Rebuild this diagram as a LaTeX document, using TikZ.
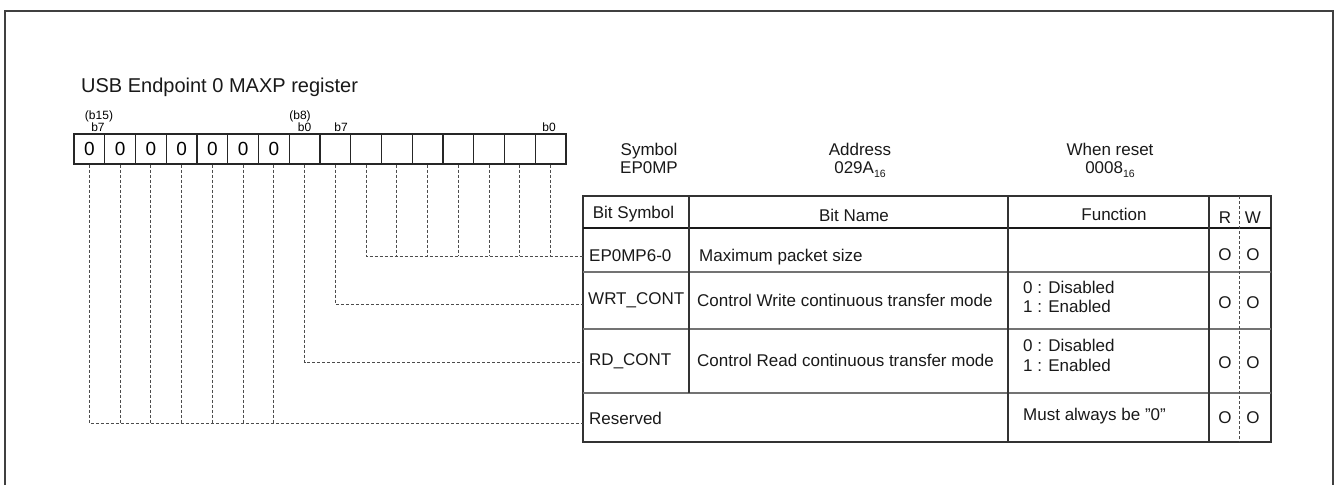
\documentclass[tikz,border=0pt]{standalone}
\usepackage{fontspec}
\setmainfont{Liberation Sans}
\newcommand\fsz[1]{\fontsize{#1}{#1}\selectfont}
\newcommand\hexsub{\raisebox{-4pt}{\fsz{10.5}16}}
\begin{document}
\begin{tikzpicture}[x=1pt,y=-1pt]
\tikzset{
 frameline/.style={draw=black!75, line width=1.5pt},
 cellbox/.style={draw=black!85, line width=1.1pt, minimum width=30.75pt, minimum height=30pt, inner sep=0pt, font=\fsz{19}},
 bitlbl/.style={font=\fsz{12}, inner sep=0pt, anchor=base},
 conn/.style={draw=black!70, line width=0.8pt, dash pattern=on 3pt off 2pt},
 tbl/.style={draw=black!80, line width=1.2pt},
 hdr/.style={draw=black!90, line width=2pt},
 rowline/.style={draw=black!55, line width=1.4pt},
 txt/.style={font=\fsz{17}, inner sep=0pt, text=black!90},
}
\useasboundingbox (0,0) rectangle (1335,485);
% outer frame
\draw[frameline] (5,485) -- (5,11) -- (1333,11) -- (1333,485);
% title
\node[txt, font=\fsz{20}, anchor=base west] (title) at (81,92) {USB Endpoint 0 MAXP register};
% register cells
\foreach \i in {0,...,6}
  \node[cellbox] (c\i) at ({74+30.75*(\i+0.5)},149) {0};
\foreach \i in {7,...,15}
  \node[cellbox] (c\i) at ({74+30.75*(\i+0.5)},149) {};
% bit labels
\node[bitlbl] (l15) at (99,119) {(b15)};
\node[bitlbl] (l15b) at (98,131.5) {b7};
\node[bitlbl] (l8) at (300,119) {(b8)};
\node[bitlbl] (l8b) at (304.5,131.5) {b0};
\node[bitlbl] (l7) at (341,131.5) {b7};
\node[bitlbl] (l0) at (549,131.5) {b0};
% symbol / address / reset
\node[txt, anchor=base] (symh) at (649,155) {Symbol};
\node[txt, anchor=base] (symv) at (649,173.3) {EP0MP};
\node[txt, anchor=base] (addh) at (860,155) {Address};
\node[txt, anchor=base] (addv) at (860,173.3) {029A\hexsub};
\node[txt, anchor=base] (rsth) at (1110,155) {When reset};
\node[txt, anchor=base] (rstv) at (1110,173.3) {0008\hexsub};
% table
\draw[tbl] (583,196) rectangle (1271,442);
\draw[hdr] (583,228) -- (1271,228);
\draw[rowline] (583,272) -- (1271,272);
\draw[rowline] (583,329) -- (1271,329);
\draw[rowline] (583,393) -- (1271,393);
\draw[tbl] (689,196) -- (689,393);
\draw[tbl] (1008,196) -- (1008,442);
\draw[tbl] (1209,196) -- (1209,442);
\draw[conn] (1239,196) -- (1239,442);
% header texts
\node[txt, anchor=base] (hbs) at (633.5,218) {Bit Symbol};
\node[txt, anchor=base] (hbn) at (854,221.5) {Bit Name};
\node[txt, anchor=base] (hfn) at (1114,220) {Function};
\node[txt, anchor=base] (hr) at (1225,223) {R};
\node[txt, anchor=base] (hw) at (1253,223) {W};
% row 1
\node[txt, anchor=base west] (s1) at (589,261.5) {EP0MP6-0};
\node[txt, anchor=base west] (n1) at (699,261.5) {Maximum packet size};
\node[txt, anchor=base] (r1r) at (1225,260.5) {O};
\node[txt, anchor=base] (r1w) at (1253,260.5) {O};
% row 2
\node[txt, anchor=base west] (s2) at (588,304.5) {WRT\_CONT};
\node[txt, anchor=base west] (n2) at (697,306) {Control Write continuous transfer mode};
\node[txt, anchor=base west] (f2a) at (1023,293) {0 : Disabled};
\node[txt, anchor=base west] (f2b) at (1023,312.5) {1 : Enabled};
\node[txt, anchor=base] (r2r) at (1225,308) {O};
\node[txt, anchor=base] (r2w) at (1253,308) {O};
% row 3
\node[txt, anchor=base west] (s3) at (589,365) {RD\_CONT};
\node[txt, anchor=base west] (n3) at (697,366.5) {Control Read continuous transfer mode};
\node[txt, anchor=base west] (f3a) at (1023,351.5) {0 : Disabled};
\node[txt, anchor=base west] (f3b) at (1023,371) {1 : Enabled};
\node[txt, anchor=base] (r3r) at (1225,368) {O};
\node[txt, anchor=base] (r3w) at (1253,368) {O};
% row 4
\node[txt, anchor=base west] (s4) at (589,424.5) {Reserved};
\node[txt, anchor=base west] (f4) at (1023,420) {Must always be \symbol{34}0\symbol{34}};
\node[txt, anchor=base] (r4r) at (1225,423) {O};
\node[txt, anchor=base] (r4w) at (1253,423) {O};
% connector end points at table edge
\coordinate (e1) at (583,256);
\coordinate (e2) at (583,304);
\coordinate (e3) at (583,362);
\coordinate (e4) at (583,423);
% connectors
\draw[conn] (c9.south) |- (e1);
\foreach \i in {10,...,15} \draw[conn] (c\i.south) -- (c\i.south |- e1);
\draw[conn] (c8.south) |- (e2);
\draw[conn] (c7.south) |- (e3);
\draw[conn] (c0.south) |- (e4);
\foreach \i in {1,...,6} \draw[conn] (c\i.south) -- (c\i.south |- e4);
\end{tikzpicture}
\end{document}
